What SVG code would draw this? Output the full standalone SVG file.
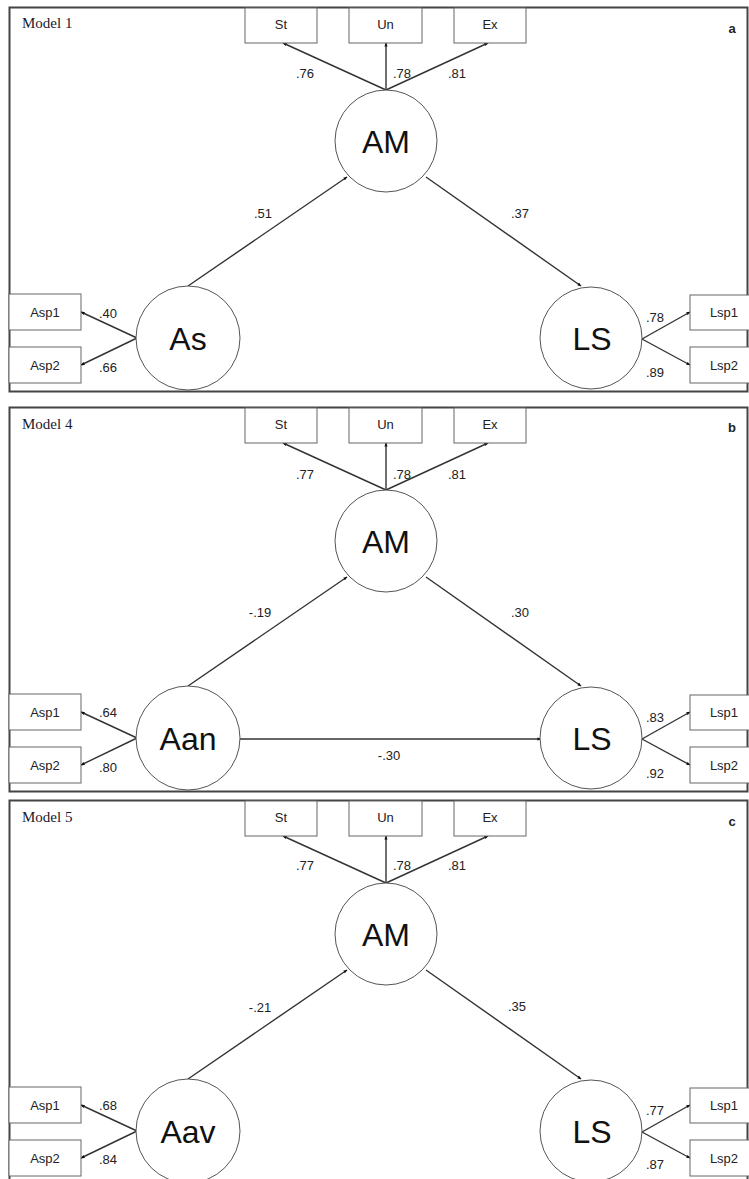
<svg xmlns="http://www.w3.org/2000/svg" width="749" height="1179" viewBox="0 0 749 1179">
<style>
.bg{fill:#ffffff}
.panel{fill:none;stroke:#444;stroke-width:2}
.box{fill:#fff;stroke:#666;stroke-width:1}
.lat{fill:#fff;stroke:#555;stroke-width:1}
.bt{font-family:"Liberation Sans",Arial,sans-serif;font-size:13px;fill:#222;text-anchor:middle}
.lt{font-family:"Liberation Sans",Arial,sans-serif;font-size:32px;fill:#111;text-anchor:middle}
.nt{font-family:"Liberation Sans",Arial,sans-serif;font-size:13px;fill:#222;text-anchor:middle}
.mt{font-family:"Liberation Serif","Times New Roman",serif;font-size:15px;fill:#1a1a2e}
.pt{font-family:"Liberation Sans",Arial,sans-serif;font-size:13px;font-weight:bold;fill:#222;text-anchor:middle}
.c{fill:none;stroke:#333;stroke-width:1.4;marker-end:url(#ah)}
</style>
<defs>
<marker id="ah" viewBox="0 0 10 10" refX="9" refY="5" markerWidth="4" markerHeight="4" orient="auto" markerUnits="userSpaceOnUse">
<path d="M0,1 L10,5 L0,9 z" fill="#111"/>
</marker>
</defs>
<rect class="bg" x="0" y="0" width="749" height="1179"/>

<!-- Panel a -->
<g id="panel-a">
<rect class="panel" x="9.5" y="7.5" width="738" height="384"/>
<text class="mt" x="22" y="28">Model 1</text>
<text class="pt" x="732" y="33">a</text>
<g id="a-connectors">
<line class="c" x1="386" y1="90" x2="283" y2="43"/>
<line class="c" x1="386" y1="90" x2="386" y2="43"/>
<line class="c" x1="386" y1="90" x2="488" y2="43"/>
<line class="c" x1="137" y1="338" x2="81" y2="312"/>
<line class="c" x1="137" y1="338" x2="81" y2="365"/>
<line class="c" x1="642" y1="339" x2="690" y2="312"/>
<line class="c" x1="642" y1="339" x2="690" y2="365"/>
<line class="c" x1="188" y1="286" x2="347" y2="177"/>
<line class="c" x1="426" y1="177" x2="581" y2="286"/>
</g>
<g id="a-St"><rect class="box" x="245" y="8" width="72" height="35"/><text class="bt" x="281" y="29">St</text></g>
<g id="a-Un"><rect class="box" x="349" y="8" width="73" height="35"/><text class="bt" x="385.5" y="29">Un</text></g>
<g id="a-Ex"><rect class="box" x="454" y="8" width="72" height="35"/><text class="bt" x="490" y="29">Ex</text></g>
<g id="a-AM"><circle class="lat" cx="386" cy="141" r="51"/><text class="lt" x="386" y="152.5">AM</text></g>
<g id="a-As"><circle class="lat" cx="188" cy="338" r="52"/><text class="lt" x="188" y="349.5">As</text></g>
<g id="a-LS"><circle class="lat" cx="591" cy="338" r="51"/><text class="lt" x="592" y="349.5">LS</text></g>
<g id="a-Asp1"><rect class="box" x="9" y="294" width="72" height="36"/><text class="bt" x="45" y="316.5">Asp1</text></g>
<g id="a-Asp2"><rect class="box" x="9" y="347" width="72" height="36"/><text class="bt" x="45" y="369.5">Asp2</text></g>
<g id="a-Lsp1"><rect class="box" x="690" y="295" width="62" height="35"/><text class="bt" x="724" y="317">Lsp1</text></g>
<g id="a-Lsp2"><rect class="box" x="690" y="347" width="62" height="36"/><text class="bt" x="724" y="369.5">Lsp2</text></g>
<g id="a-labels">
<text class="nt" x="305" y="77.5">.76</text>
<text class="nt" x="402" y="77.5">.78</text>
<text class="nt" x="457" y="77.5">.81</text>
<text class="nt" x="263" y="217.5">.51</text>
<text class="nt" x="520" y="217.5">.37</text>
<text class="nt" x="108" y="317.5">.40</text>
<text class="nt" x="108" y="371.5">.66</text>
<text class="nt" x="655" y="321.5">.78</text>
<text class="nt" x="655" y="376.5">.89</text>
</g>
</g>

<!-- Panel b -->
<g id="panel-b" transform="translate(0,400)">
<rect class="panel" x="9.5" y="7.5" width="738" height="384"/>
<text class="mt" x="22" y="29">Model 4</text>
<text class="pt" x="732" y="32">b</text>
<g id="b-connectors">
<line class="c" x1="386" y1="90" x2="283" y2="43"/>
<line class="c" x1="386" y1="90" x2="386" y2="43"/>
<line class="c" x1="386" y1="90" x2="488" y2="43"/>
<line class="c" x1="137" y1="338" x2="81" y2="312"/>
<line class="c" x1="137" y1="338" x2="81" y2="365"/>
<line class="c" x1="642" y1="339" x2="690" y2="312"/>
<line class="c" x1="642" y1="339" x2="690" y2="365"/>
<line class="c" x1="188" y1="286" x2="347" y2="177"/>
<line class="c" x1="426" y1="177" x2="581" y2="286"/>
<line class="c" x1="240" y1="339" x2="541" y2="339"/>
</g>
<g id="b-St"><rect class="box" x="245" y="8" width="72" height="35"/><text class="bt" x="281" y="29">St</text></g>
<g id="b-Un"><rect class="box" x="349" y="8" width="73" height="35"/><text class="bt" x="385.5" y="29">Un</text></g>
<g id="b-Ex"><rect class="box" x="454" y="8" width="72" height="35"/><text class="bt" x="490" y="29">Ex</text></g>
<g id="b-AM"><circle class="lat" cx="386" cy="141" r="51"/><text class="lt" x="386" y="152.5">AM</text></g>
<g id="b-Aan"><circle class="lat" cx="188" cy="338" r="52"/><text class="lt" x="188" y="349.5">Aan</text></g>
<g id="b-LS"><circle class="lat" cx="591" cy="338" r="51"/><text class="lt" x="592" y="349.5">LS</text></g>
<g id="b-Asp1"><rect class="box" x="9" y="294" width="72" height="36"/><text class="bt" x="45" y="316.5">Asp1</text></g>
<g id="b-Asp2"><rect class="box" x="9" y="347" width="72" height="36"/><text class="bt" x="45" y="369.5">Asp2</text></g>
<g id="b-Lsp1"><rect class="box" x="690" y="295" width="62" height="35"/><text class="bt" x="724" y="317">Lsp1</text></g>
<g id="b-Lsp2"><rect class="box" x="690" y="347" width="62" height="36"/><text class="bt" x="724" y="369.5">Lsp2</text></g>
<g id="b-labels">
<text class="nt" x="305" y="78.5">.77</text>
<text class="nt" x="402" y="78.5">.78</text>
<text class="nt" x="457" y="78.5">.81</text>
<text class="nt" x="260" y="216.5">-.19</text>
<text class="nt" x="520" y="216.5">.30</text>
<text class="nt" x="108" y="316.5">.64</text>
<text class="nt" x="108" y="371.5">.80</text>
<text class="nt" x="655" y="321.5">.83</text>
<text class="nt" x="655" y="377.5">.92</text>
<text class="nt" x="389" y="359.5">-.30</text>
</g>
</g>

<!-- Panel c -->
<g id="panel-c" transform="translate(0,793)">
<rect class="panel" x="9.5" y="7.5" width="738" height="384"/>
<text class="mt" x="22" y="29">Model 5</text>
<text class="pt" x="732" y="33">c</text>
<g id="c-connectors">
<line class="c" x1="386" y1="90" x2="283" y2="43"/>
<line class="c" x1="386" y1="90" x2="386" y2="43"/>
<line class="c" x1="386" y1="90" x2="488" y2="43"/>
<line class="c" x1="137" y1="338" x2="81" y2="312"/>
<line class="c" x1="137" y1="338" x2="81" y2="365"/>
<line class="c" x1="642" y1="339" x2="690" y2="312"/>
<line class="c" x1="642" y1="339" x2="690" y2="365"/>
<line class="c" x1="188" y1="286" x2="347" y2="177"/>
<line class="c" x1="426" y1="177" x2="581" y2="286"/>
</g>
<g id="c-St"><rect class="box" x="245" y="8" width="72" height="35"/><text class="bt" x="281" y="29">St</text></g>
<g id="c-Un"><rect class="box" x="349" y="8" width="73" height="35"/><text class="bt" x="385.5" y="29">Un</text></g>
<g id="c-Ex"><rect class="box" x="454" y="8" width="72" height="35"/><text class="bt" x="490" y="29">Ex</text></g>
<g id="c-AM"><circle class="lat" cx="386" cy="141" r="51"/><text class="lt" x="386" y="152.5">AM</text></g>
<g id="c-Aav"><circle class="lat" cx="188" cy="338" r="52"/><text class="lt" x="188" y="349.5">Aav</text></g>
<g id="c-LS"><circle class="lat" cx="591" cy="338" r="51"/><text class="lt" x="592" y="349.5">LS</text></g>
<g id="c-Asp1"><rect class="box" x="9" y="294" width="72" height="36"/><text class="bt" x="45" y="316.5">Asp1</text></g>
<g id="c-Asp2"><rect class="box" x="9" y="347" width="72" height="36"/><text class="bt" x="45" y="369.5">Asp2</text></g>
<g id="c-Lsp1"><rect class="box" x="690" y="295" width="62" height="35"/><text class="bt" x="724" y="317">Lsp1</text></g>
<g id="c-Lsp2"><rect class="box" x="690" y="347" width="62" height="36"/><text class="bt" x="724" y="369.5">Lsp2</text></g>
<g id="c-labels">
<text class="nt" x="305" y="76.5">.77</text>
<text class="nt" x="402" y="76.5">.78</text>
<text class="nt" x="457" y="76.5">.81</text>
<text class="nt" x="260" y="218.5">-.21</text>
<text class="nt" x="517" y="217.5">.35</text>
<text class="nt" x="108" y="316.5">.68</text>
<text class="nt" x="108" y="370.5">.84</text>
<text class="nt" x="655" y="321.5">.77</text>
<text class="nt" x="655" y="375.5">.87</text>
</g>
</g>
</svg>
